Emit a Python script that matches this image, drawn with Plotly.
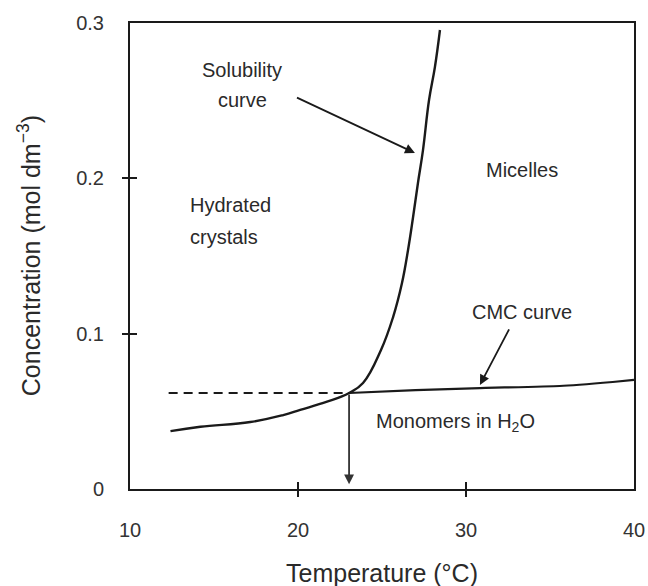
import plotly.graph_objects as go

# ---------------- data ----------------
sol_T = [12.41, 14.19, 17.16, 19.12, 20.13, 21.73, 23.04, 23.87, 24.94, 25.66, 26.19, 26.55, 26.85, 27.14, 27.44, 27.80, 28.15, 28.45]
sol_C = [0.0373, 0.0401, 0.0431, 0.0476, 0.0509, 0.0562, 0.0618, 0.0682, 0.0895, 0.1107, 0.1326, 0.1539, 0.1751, 0.1970, 0.2182, 0.2504, 0.2717, 0.2955]

cmc_T = [23.04, 27.0, 30.83, 35.58, 38.73, 40.0]
cmc_C = [0.0618, 0.0636, 0.0650, 0.0663, 0.0689, 0.0702]

dash_T = [12.3, 23.04]
dash_C = [0.0618, 0.0618]

T_K = 23.04
C_K = 0.0618

x_ticks = [10, 20, 30, 40]
x_ticktext = ["10", "20", "30", "40"]
y_ticks = [0, 0.1, 0.2, 0.3]
y_ticktext = ["0", "0.1", "0.2", "0.3"]
x_minor = [20, 30]
y_minor = [0.1, 0.2]

# arrow endpoints (tail -> tip) in data units
sol_arrow = [(19.85, 0.2524), (26.96, 0.2163)]
cmc_arrow = [(32.61, 0.1037), (30.83, 0.0670)]
tk_arrow = [(T_K, C_K), (T_K, 0.003)]

FONT = "Liberation Sans, Arial, Helvetica, sans-serif"
TXT = "#2a2a2a"
LINE = "#1a1a1a"

fig = go.Figure()
fig.add_trace(go.Scatter(x=sol_T, y=sol_C, mode="lines",
                         line=dict(color=LINE, width=2.4, shape="spline", smoothing=1.2),
                         showlegend=False, hoverinfo="skip"))
fig.add_trace(go.Scatter(x=cmc_T, y=cmc_C, mode="lines",
                         line=dict(color=LINE, width=2.2, shape="spline", smoothing=0.5),
                         showlegend=False, hoverinfo="skip"))
fig.add_trace(go.Scatter(x=dash_T, y=dash_C, mode="lines",
                         line=dict(color=LINE, width=2.2, dash="9px,6px"),
                         showlegend=False, hoverinfo="skip"))
# empty traces so the tick-only overlay axes are drawn
fig.add_trace(go.Scatter(x=[], y=[], xaxis="x2", yaxis="y2", showlegend=False))
fig.add_trace(go.Scatter(x=[], y=[], xaxis="x3", yaxis="y3", showlegend=False))

xr = [10, 40]
yr = [0, 0.3]

common = dict(showgrid=False, zeroline=False, fixedrange=True, automargin=False)
fig.update_layout(
    width=648, height=586, autosize=False,
    margin=dict(l=130, r=14, t=23, b=97),
    paper_bgcolor="white", plot_bgcolor="white",
    font=dict(family=FONT, size=20, color=TXT),
    xaxis=dict(range=xr, tickvals=x_ticks, ticktext=x_ticktext, ticks="",
               showline=True, linecolor=LINE, linewidth=2, mirror=True,
               tickfont=dict(size=20, color="#333"), ticklabelstandoff=22, **common),
    yaxis=dict(range=yr, tickvals=y_ticks, ticktext=y_ticktext, ticks="",
               showline=True, linecolor=LINE, linewidth=2, mirror=True,
               tickfont=dict(size=20, color="#333"), ticklabelstandoff=20, **common),
    xaxis2=dict(range=xr, overlaying="x", anchor="y2", side="bottom", tickvals=x_minor,
                ticks="outside", ticklen=7, tickwidth=2, tickcolor=LINE,
                showticklabels=False, showline=False, **common),
    yaxis2=dict(range=yr, overlaying="y", anchor="x2", side="left", tickvals=y_minor,
                ticks="outside", ticklen=7, tickwidth=2, tickcolor=LINE,
                showticklabels=False, showline=False, **common),
    xaxis3=dict(range=xr, overlaying="x", anchor="y3", side="bottom", tickvals=x_minor,
                ticks="inside", ticklen=7, tickwidth=2, tickcolor=LINE,
                showticklabels=False, showline=False, **common),
    yaxis3=dict(range=yr, overlaying="y", anchor="x3", side="left", tickvals=y_minor,
                ticks="inside", ticklen=7, tickwidth=2, tickcolor=LINE,
                showticklabels=False, showline=False, **common),
)

def label(text, x, y, xanchor="center", size=20):
    fig.add_annotation(x=x, y=y, xref="x", yref="y", text=text, showarrow=False,
                       xanchor=xanchor, yanchor="middle",
                       font=dict(family=FONT, size=size, color=TXT))

label("Solubility", 16.68, 0.2697)
label("curve", 16.68, 0.2504)
label("Micelles", 33.32, 0.2054)
label("Hydrated", 13.48, 0.1828, xanchor="left")
label("crystals", 13.48, 0.1622, xanchor="left")
label("CMC curve", 33.32, 0.1140)
label("Monomers in H<sub>2</sub>O", 29.4, 0.0425)

def arrow(tail, tip, color=LINE, width=1.8):
    fig.add_annotation(x=tip[0], y=tip[1], ax=tail[0], ay=tail[1],
                       xref="x", yref="y", axref="x", ayref="y", text="",
                       showarrow=True, arrowhead=2, arrowsize=1.1,
                       arrowwidth=width, arrowcolor=color, standoff=0)

arrow(*sol_arrow)
arrow(*cmc_arrow)
arrow(*tk_arrow, color="#333", width=1.8)

# T_K label below the axis
fig.add_annotation(x=T_K, y=-0.0145, xref="x", yref="y", text="<i>T</i><sub>K</sub>",
                   showarrow=False, xanchor="center", yanchor="middle",
                   font=dict(family=FONT, size=20, color=TXT))

# axis titles
fig.add_annotation(x=0.5, y=-0.18, xref="paper", yref="paper", text="Temperature (°C)",
                   showarrow=False, xanchor="center", yanchor="middle",
                   font=dict(family=FONT, size=25, color=TXT))
fig.add_annotation(x=-0.2, y=0.5, xref="paper", yref="paper",
                   text="Concentration (mol dm<sup>−3</sup>)", textangle=-90,
                   showarrow=False, xanchor="center", yanchor="middle",
                   font=dict(family=FONT, size=25, color=TXT))

post = ("var gd=document.getElementById('{plot_id}');"
        "document.documentElement.style.margin='0';"
        "document.body.style.margin='0';document.body.style.padding='0';"
        "document.body.style.overflow='hidden';"
        "document.documentElement.style.overflow='hidden';"
        "gd.style.width='648px';gd.style.height='586px';"
        "Plotly.relayout(gd,{autosize:false,width:648,height:586});")
fig.write_html("out.html", post_script=post,
               config={"displayModeBar": False, "responsive": False})
